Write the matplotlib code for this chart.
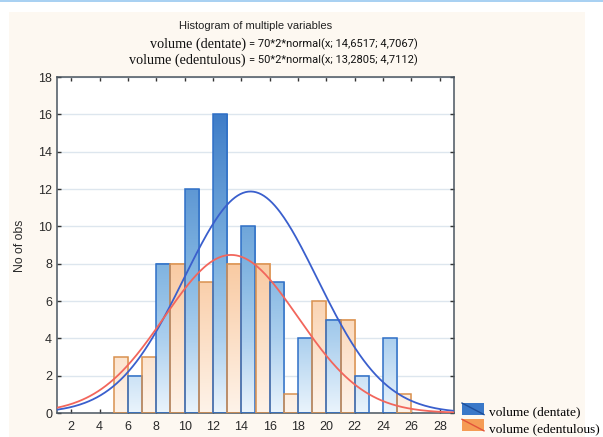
import numpy as np
import matplotlib.pyplot as plt
from matplotlib.colors import LinearSegmentedColormap
from matplotlib.patches import Rectangle
from matplotlib.lines import Line2D
from matplotlib.legend_handler import HandlerBase

# bins of width 2, edentulous in left half, dentate in right half
bin_left = [5, 7, 9, 11, 13, 15, 17, 19, 21, 23, 25]
edentulous = [3, 3, 8, 7, 8, 8, 1, 6, 5, 0, 1]
dentate = [2, 8, 12, 16, 10, 7, 4, 5, 2, 4, 0]

# fitted normals from the title
n_dent, mu_dent, sd_dent = 70, 14.6517, 4.7067
n_eden, mu_eden, sd_eden = 50, 13.2805, 4.7112
bin_w = 2

xticks = list(range(2, 30, 2))
yticks = list(range(0, 20, 2))

W, H = 603, 437
fig = plt.figure(figsize=(W / 100, H / 100), dpi=100)
fig.patch.set_facecolor('white')
# cream panel + blue top line
fig.add_artist(Rectangle((9 / W, 0), (585 - 9) / W, 1 - 12 / H, transform=fig.transFigure,
                         facecolor='#fdf8f1', edgecolor='none', zorder=-10))
fig.add_artist(Rectangle((0, 1 - 2 / H), 1, 2 / H, transform=fig.transFigure,
                         facecolor='#a9d1f2', edgecolor='none', zorder=-10))

ax = fig.add_axes([57 / W, 1 - 413 / H, (454 - 57) / W, (413 - 77) / H])
ax.set_facecolor('white')

blue_cm = LinearSegmentedColormap.from_list('b', [(0, '#eaf4fc'), (4 / 18, '#abcfee'), (8 / 18, '#7fb3e0'),
                                                   (16 / 18, '#3f7dc8'), (1, '#3a75c4')])
org_cm = LinearSegmentedColormap.from_list('o', [(0, '#fef3e9'), (8 / 18, '#f9caa2'), (1, '#f5b07a')])


def draw_bar(x0, h, cmap, edge):
    if h <= 0:
        return
    g = np.linspace(0, h / 18, 256).reshape(-1, 1)
    ax.imshow(g, cmap=cmap, vmin=0, vmax=1, origin='lower', extent=(x0, x0 + 1, 0, h),
              aspect='auto', zorder=2, interpolation='bilinear')
    ax.add_patch(Rectangle((x0, 0), 1, h, fill=False, edgecolor=edge, linewidth=1.1, zorder=3))


for b, e, d in zip(bin_left, edentulous, dentate):
    draw_bar(b, e, org_cm, '#d9914f')
    draw_bar(b + 1, d, blue_cm, '#2f6fc6')

x = np.linspace(1, 29, 300)
pdf = lambda x, m, s: np.exp(-0.5 * ((x - m) / s) ** 2) / (s * np.sqrt(2 * np.pi))
ax.plot(x, n_dent * bin_w * pdf(x, mu_dent, sd_dent), color='#3a5fcd', lw=1.3, zorder=4)
ax.plot(x, n_eden * bin_w * pdf(x, mu_eden, sd_eden), color='#f2665c', lw=1.3, zorder=4)

ax.set_xlim(1, 29)
ax.set_ylim(0, 18)
ax.set_xticks(xticks)
ax.set_yticks(yticks)
ax.tick_params(direction='in', top=True, right=True, length=3, width=1, colors='#333333',
               labelsize=9, labelcolor='#2a2a2a')
ax.tick_params(axis='x', pad=6)
for lab in ax.get_xticklabels() + ax.get_yticklabels():
    lab.set_fontfamily('Liberation Sans')
ax.grid(axis='y', color='#dde6ee', lw=1, zorder=0)
ax.set_axisbelow(True)
for s in ax.spines.values():
    s.set_color('#4a5560')
    s.set_linewidth(1.1)

fig.text(20 / W, 1 - 246 / H, 'No of obs', rotation=90, ha='center', va='center',
         fontsize=8.8, family='Liberation Sans', color='#2a2a2a')

fig.text(256 / W, 1 - 26 / H, 'Histogram of multiple variables', ha='center', va='center',
         fontsize=8, family='Liberation Sans', color='#222222')
for yy, name, txt in [(44, 'volume (dentate)', '= 70*2*normal(x; 14,6517; 4,7067)'),
                      (60, 'volume (edentulous)', '= 50*2*normal(x; 13,2805; 4,7112)')]:
    fig.text(246 / W, 1 - yy / H, name, ha='right', va='center', fontsize=10.2,
             family='Liberation Serif', color='#111111')
    fig.text(249 / W, 1 - yy / H, txt, ha='left', va='center', fontsize=8,
             family='Roboto', color='#111111')


class DiagHandler(HandlerBase):
    def __init__(self, fc, lc):
        super().__init__()
        self.fc, self.lc = fc, lc

    def create_artists(self, legend, orig, xd, yd, width, height, fontsize, trans):
        r = Rectangle((xd, yd), width, height, facecolor=self.fc, edgecolor='none', transform=trans)
        l = Line2D([xd, xd + width], [yd + height, yd], color=self.lc, lw=1, transform=trans)
        return [r, l]


h1 = Rectangle((0, 0), 1, 1)
h2 = Rectangle((0, 0), 1, 1)
leg = fig.legend([h1, h2], ['volume (dentate)', 'volume (edentulous)'],
                 handler_map={h1: DiagHandler('#3a78c8', '#1f4f9a'), h2: DiagHandler('#f59c55', '#e2533a')},
                 loc='lower left', bbox_to_anchor=(462 / W, 2 / H), frameon=False,
                 prop={'family': 'Liberation Serif', 'size': 9.6}, handlelength=1.65, handleheight=0.95,
                 handletextpad=0.37, labelspacing=0.22, borderpad=0, borderaxespad=0)

fig.savefig('out.png', dpi=100)
